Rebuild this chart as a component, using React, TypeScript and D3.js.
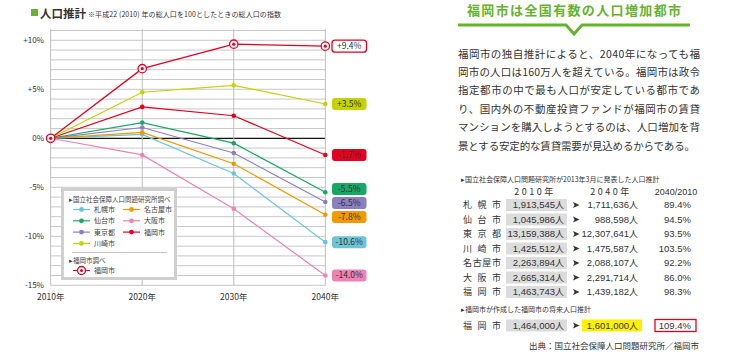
import * as d3 from 'd3';

// chart data (index vs 2010 = 0%)
const YEARS = [2010, 2020, 2030, 2040];
const SAPPORO = [0, 0.4, -3.6, -10.6];
const SENDAI = [0, 1.6, -0.5, -5.5];
const TOKYO = [0, 1.1, -1.5, -6.5];
const KAWASAKI = [0, 4.7, 5.4, 3.5];
const NAGOYA = [0, 0.6, -2.6, -7.8];
const OSAKA = [0, -1.7, -7.2, -14.0];
const FUKUOKA = [0, 3.2, 2.3, -1.7];
const FUKUOKA_OWN = [0, 7.1, 9.6, 9.4];
const Y_TICKS = [10, 5, 0, -5, -10, -15];

// table data
const CITIES = ['札幌市', '仙台市', '東京都', '川崎市', '名古屋市', '大阪市', '福岡市'];
const POP_2010 = [1913545, 1045986, 13159388, 1425512, 2263894, 2665314, 1463743];
const POP_2040 = [1711636, 988598, 12307641, 1475587, 2088107, 2291714, 1439182];
const RATIO = [89.4, 94.5, 93.5, 103.5, 92.2, 86.0, 98.3];
const OWN_2010 = 1464000;
const OWN_2040 = 1601000;
const OWN_RATIO = 109.4;

const PARAGRAPH = [
  '福岡市の独自推計によると、2040年になっても福',
  '岡市の人口は160万人を超えている。福岡市は政令',
  '指定都市の中で最も人口が安定している都市であ',
  'り、国内外の不動産投資ファンドが福岡市の賃貸',
  'マンションを購入しようとするのは、人口増加を背',
  '景とする安定的な賃貸需要が見込めるからである。',
];

const FONT = '"Noto Sans CJK JP", "Noto Sans", sans-serif';
const NUM_FONT = '"Liberation Sans", Arial, sans-serif';
const GREEN = '#66b32e';
const RED = '#e60020';

const series = [
  { name: '大阪市', color: '#ee82b4', values: OSAKA },
  { name: '札幌市', color: '#6cc4d6', values: SAPPORO },
  { name: '名古屋市', color: '#f39800', values: NAGOYA },
  { name: '東京都', color: '#8a80c0', values: TOKYO },
  { name: '仙台市', color: '#17a865', values: SENDAI },
  { name: '福岡市', color: RED, values: FUKUOKA },
  { name: '川崎市', color: '#c6d300', values: KAWASAKI },
];

const legendCol1 = ['札幌市', '仙台市', '東京都', '川崎市'];
const legendCol2 = ['名古屋市', '大阪市', '福岡市'];

const fmtNum = d3.format(',');
const fmtPct = (v: number) => (v > 0 ? '+' : '') + v.toFixed(1) + '%';

function spreadLabels(ys: number[], gap: number) {
  const order = ys.map((y, i) => ({ y, i })).sort((a, b) => a.y - b.y);
  for (let k = 0; k < 50; k++) {
    for (let j = 1; j < order.length; j++) {
      const d = order[j].y - order[j - 1].y;
      if (d < gap) {
        const shift = (gap - d) / 2;
        order[j].y += shift;
        order[j - 1].y -= shift;
      }
    }
  }
  const out: number[] = [];
  order.forEach((o) => (out[o.i] = o.y));
  return out;
}

// number with trailing 人, digits in a narrower face
function Pop({ x, y, v }: { x: number; y: number; v: number }) {
  return (
    <text x={x} y={y} fontSize={9} textAnchor="end" fill="#333">
      <tspan fontFamily={NUM_FONT} fontSize={9.5}>{fmtNum(v)}</tspan>
      <tspan>人</tspan>
    </text>
  );
}

export default function App() {
  const x = d3.scaleLinear().domain([2010, 2040]).range([50.7, 325.3]);
  const y = d3.scaleLinear().domain([-15, 11.15]).range([285.3, 29]);
  const line = d3
    .line<number>()
    .x((_, i) => x(YEARS[i]))
    .y((d) => y(d));

  const gridVals = d3.range(-15, 12, 1);
  const colorOf = (n: string) => series.find((s) => s.name === n)!.color;

  // right-side labels
  const labelItems = [
    { v: FUKUOKA_OWN[3], fill: '#fff', stroke: RED },
    ...series.map((s) => ({ v: s.values[3], fill: s.color, stroke: s.color })),
  ];
  const labelY = spreadLabels(labelItems.map((d) => y(d.v)), 14);

  const rowY = (i: number) => 205 + i * 14.5;

  const arrow = (cx: number, cy: number) => (
    <path
      d={`M${cx - 3},${cy - 3} L${cx + 3.5},${cy} L${cx - 3},${cy + 3} L${cx - 1.5},${cy} Z`}
      fill="#333"
    />
  );

  return (
    <svg
      width={740}
      height={352}
      style={{ position: 'absolute', left: 0, top: 0, background: '#fff' }}
      fontFamily={FONT}
    >
      {/* left title */}
      <rect x={31} y={9} width={7} height={7} fill={GREEN} />
      <text x={40} y={17.5} fontSize={11.5} fontWeight="bold" fill="#333">
        人口推計
      </text>
      <text x={88} y={16.5} fontSize={7} fill="#333" textLength={193} lengthAdjust="spacing">
        ※平成22 (2010) 年の総人口を100としたときの総人口の指数
      </text>

      {/* grid */}
      {gridVals.map((v) => (
        <line
          key={v}
          x1={x(2010)}
          x2={x(2040)}
          y1={y(v)}
          y2={y(v)}
          stroke={v === 0 ? '#111' : '#c8c8c8'}
          strokeWidth={v === 0 ? 1.2 : 1}
        />
      ))}
      {YEARS.map((yr) => (
        <line key={yr} x1={x(yr)} x2={x(yr)} y1={y(11.15)} y2={y(-15)} stroke="#bdbdbd" />
      ))}

      {/* axes labels */}
      {Y_TICKS.map((t) => (
        <text key={t} x={44} y={y(t) + 3} fontSize={8} textAnchor="end" fill="#333">
          {t > 0 ? `+${t}%` : `${t}%`}
        </text>
      ))}
      {YEARS.map((yr) => (
        <text key={yr} x={x(yr)} y={299.5} fontSize={8.5} textAnchor="middle" fill="#333">
          {yr}年
        </text>
      ))}

      {/* series */}
      {series.map((s) => (
        <g key={s.name}>
          <path d={line(s.values)!} fill="none" stroke={s.color} strokeWidth={1.2} />
          {s.values.map((v, i) => (
            <circle key={i} cx={x(YEARS[i])} cy={y(v)} r={2.3} fill={s.color} />
          ))}
        </g>
      ))}
      <path d={line(FUKUOKA_OWN)!} fill="none" stroke={RED} strokeWidth={1.3} />
      {FUKUOKA_OWN.map((v, i) => (
        <g key={i}>
          <circle cx={x(YEARS[i])} cy={y(v)} r={4.2} fill="#fff" stroke={RED} strokeWidth={1.3} />
          <circle cx={x(YEARS[i])} cy={y(v)} r={1.6} fill={RED} />
        </g>
      ))}

      {/* end labels */}
      {labelItems.map((d, i) => (
        <g key={i}>
          <rect
            x={332}
            y={labelY[i] - 6}
            width={34.5}
            height={12}
            rx={3}
            fill={d.fill}
            stroke={d.stroke}
            strokeWidth={i === 0 ? 1.3 : 0}
          />
          <text x={349.2} y={labelY[i] + 3} fontSize={8.5} textAnchor="middle" fill="#333">
            {fmtPct(d.v)}
          </text>
        </g>
      ))}

      {/* legend */}
      <rect x={62.5} y={189.5} width={113} height={89} fill="#fff" stroke="#cfcfcf" strokeWidth={3} />
      <text x={69} y={201.5} fontSize={6.5} fill="#444">
        ▸国立社会保障人口問題研究所調べ
      </text>
      {[legendCol1, legendCol2].map((col, c) =>
        col.map((n, r) => {
          const lx = c === 0 ? 73 : 123;
          const ly = 209.5 + r * 11.3;
          const col0 = colorOf(n);
          return (
            <g key={n}>
              <line x1={lx} x2={lx + 17} y1={ly} y2={ly} stroke={col0} strokeWidth={1.2} />
              <circle cx={lx + 8.5} cy={ly} r={2.4} fill={col0} />
              <text x={lx + 21} y={ly + 2.5} fontSize={7} fill="#444">
                {n}
              </text>
            </g>
          );
        })
      )}
      <line x1={72} x2={167} y1={252.5} y2={252.5} stroke="#aaa" strokeWidth={0.7} />
      <text x={69} y={262.5} fontSize={6.5} fill="#444">
        ▸福岡市調べ
      </text>
      <line x1={73} x2={90} y1={270.5} y2={270.5} stroke={RED} strokeWidth={1.2} />
      <circle cx={81.5} cy={270.5} r={4} fill="#fff" stroke={RED} strokeWidth={1.3} />
      <circle cx={81.5} cy={270.5} r={1.5} fill={RED} />
      <text x={94} y={273} fontSize={7} fill="#444">
        福岡市
      </text>

      {/* right heading */}
      <text
        x={574}
        y={15}
        fontSize={13}
        fontWeight="bold"
        textAnchor="middle"
        fill={GREEN}
        textLength={214}
        lengthAdjust="spacing"
      >
        福岡市は全国有数の人口増加都市
      </text>
      <path
        d="M458,25 L566,25 L574,34 L582,25 L690,25"
        fill="none"
        stroke={GREEN}
        strokeWidth={3}
      />

      {/* paragraph */}
      {PARAGRAPH.map((t, i) => (
        <text
          key={i}
          x={458}
          y={57.5 + i * 18.4}
          fontSize={10.5}
          fill="#333"
          textLength={i === 5 ? 237 : 242}
          lengthAdjust="spacing"
        >
          {t}
        </text>
      ))}

      {/* table */}
      <text x={461} y={181.5} fontSize={7} fill="#333">
        ▸国立社会保障人口問題研究所が2013年3月に発表した人口推計
      </text>
      <text x={535} y={194.5} fontSize={9} textAnchor="middle" fill="#333" letterSpacing={2.5}>
        2010年
      </text>
      <text x={611} y={194.5} fontSize={9} textAnchor="middle" fill="#333" letterSpacing={2.5}>
        2040年
      </text>
      <text x={676} y={194.5} fontSize={9} fontFamily={NUM_FONT} textAnchor="middle" fill="#333">
        2040/2010
      </text>
      {CITIES.map((c, i) => (
        <g key={c}>
          <text x={463} y={rowY(i) + 3.3} fontSize={9} fill="#333" textLength={38} lengthAdjust="spacing">
            {c}
          </text>
          <rect x={506} y={rowY(i) - 6} width={61} height={12} fill="#dcdcdc" />
          <Pop x={564} y={rowY(i) + 3.3} v={POP_2010[i]} />
          {arrow(576, rowY(i))}
          <Pop x={638} y={rowY(i) + 3.3} v={POP_2040[i]} />
          <text x={691} y={rowY(i) + 3.3} fontSize={9.5} fontFamily={NUM_FONT} textAnchor="end" fill="#333">
            {RATIO[i].toFixed(1)}%
          </text>
        </g>
      ))}
      <text x={461} y={311.5} fontSize={7} fill="#333">
        ▸福岡市が作成した福岡市の将来人口推計
      </text>
      <g>
        <text x={463} y={329} fontSize={9} fill="#333" textLength={38} lengthAdjust="spacing">
          福岡市
        </text>
        <rect x={506} y={319.5} width={61} height={12} fill="#dcdcdc" />
        <Pop x={564} y={329} v={OWN_2010} />
        {arrow(576, 325.5)}
        <rect x={582} y={319.5} width={60} height={12} fill="#fff000" />
        <Pop x={638} y={329} v={OWN_2040} />
        <rect x={655} y={319.5} width={41} height={12} fill="#fff" stroke={RED} strokeWidth={1.3} />
        <text x={691} y={329} fontSize={9.5} fontFamily={NUM_FONT} textAnchor="end" fill="#333">
          {OWN_RATIO.toFixed(1)}%
        </text>
      </g>
      <text x={699} y={349} fontSize={8.5} textAnchor="end" fill="#333">
        出典：国立社会保障人口問題研究所／福岡市
      </text>
    </svg>
  );
}
